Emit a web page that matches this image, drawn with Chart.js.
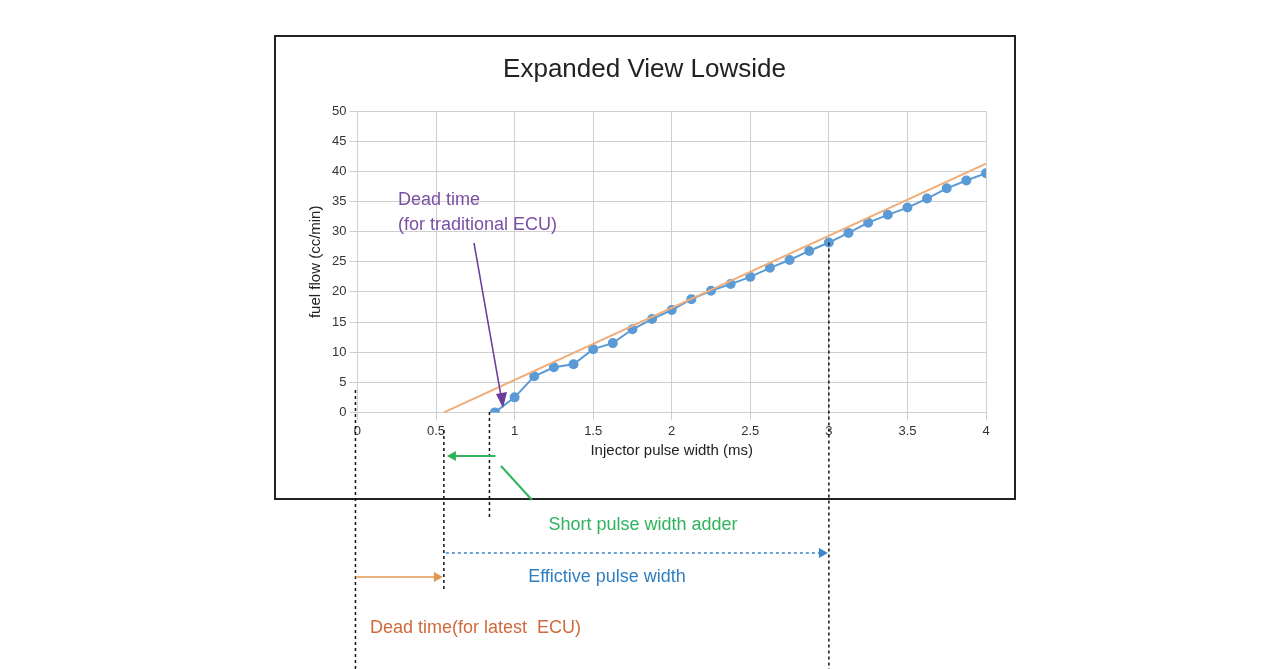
<!DOCTYPE html>
<html>
<head>
<meta charset="utf-8">
<script src="https://cdn.jsdelivr.net/npm/chart.js@4"></script>
<style>
  html, body { margin: 0; padding: 0; background: #fff; }
  #wrap { width: 1280px; height: 669px; }
</style>
</head>
<body>
<div id="wrap"><canvas id="chart"></canvas></div>
<script>
// measured flow vs pulse width
const pulseWidth = [0.875, 1.0, 1.125, 1.25, 1.375, 1.5, 1.625, 1.75, 1.875, 2.0, 2.125, 2.25, 2.375,
  2.5, 2.625, 2.75, 2.875, 3.0, 3.125, 3.25, 3.375, 3.5, 3.625, 3.75, 3.875, 4.0];
const fuelFlow = [0, 2.5, 6, 7.5, 8, 10.5, 11.5, 13.8, 15.5, 17, 18.8, 20.2, 21.3,
  22.5, 24, 25.3, 26.8, 28.2, 29.8, 31.5, 32.8, 34, 35.5, 37.2, 38.5, 39.7];
// linear fit line
const fitX = [0.55, 4.0];
const fitY = [0, 41.3];
// annotation positions (in ms)
const deadLatest = 0.55;
const deadTraditional = 0.84;
const effectiveEnd = 3.0;

const annotations = {
  id: 'annotations',
  afterDraw(chart) {
    const ctx = chart.ctx;
    const xs = chart.scales.x, ys = chart.scales.y;
    const px = v => xs.getPixelForValue(v);
    ctx.save();
    // outer box
    ctx.strokeStyle = '#222';
    ctx.lineWidth = 2;
    ctx.strokeRect(275, 36, 740, 463);

    // dotted verticals
    ctx.strokeStyle = '#111';
    ctx.lineWidth = 1.5;
    ctx.setLineDash([3, 3]);
    const vline = (x, y1, y2) => { ctx.beginPath(); ctx.moveTo(x, y1); ctx.lineTo(x, y2); ctx.stroke(); };
    vline(px(0) - 2, 390, 669);
    vline(px(deadLatest), 430, 590);
    vline(px(deadTraditional), 412, 520);
    vline(px(effectiveEnd), ys.getPixelForValue(28.2), 669);

    const arrowHead = (x, y, dir, color) => {
      ctx.setLineDash([]);
      ctx.fillStyle = color;
      ctx.beginPath();
      ctx.moveTo(x, y);
      ctx.lineTo(x - dir * 9, y - 5);
      ctx.lineTo(x - dir * 9, y + 5);
      ctx.closePath();
      ctx.fill();
    };

    // blue dotted arrow
    ctx.strokeStyle = '#3a86c8';
    ctx.setLineDash([3, 3]);
    ctx.beginPath(); ctx.moveTo(px(deadLatest) + 2, 553); ctx.lineTo(px(effectiveEnd) - 6, 553); ctx.stroke();
    arrowHead(px(effectiveEnd) - 1, 553, 1, '#3a86c8');

    // orange arrow (dead time latest)
    ctx.setLineDash([]);
    ctx.strokeStyle = '#e0964f';
    ctx.beginPath(); ctx.moveTo(px(0) - 2, 577); ctx.lineTo(px(deadLatest) - 6, 577); ctx.stroke();
    arrowHead(px(deadLatest) - 1, 577, 1, '#e0964f');

    // green short pulse adder arrow
    ctx.strokeStyle = '#2fb35d';
    ctx.lineWidth = 2;
    ctx.beginPath(); ctx.moveTo(px(deadTraditional), 456); ctx.lineTo(px(deadLatest) + 10, 456); ctx.stroke();
    arrowHead(px(deadLatest) + 3, 456, -1, '#2fb35d');
    ctx.beginPath(); ctx.moveTo(px(deadTraditional) + 6, 456); ctx.lineTo(px(deadTraditional) - 6, 456); ctx.stroke();
    ctx.beginPath(); ctx.moveTo(532, 500); ctx.lineTo(501, 466); ctx.stroke();

    // purple arrow
    ctx.strokeStyle = '#6a3d9a';
    ctx.lineWidth = 1.5;
    ctx.beginPath(); ctx.moveTo(474, 243); ctx.lineTo(501, 396); ctx.stroke();
    ctx.fillStyle = '#6a3d9a';
    ctx.beginPath(); ctx.moveTo(503, 408); ctx.lineTo(496, 394); ctx.lineTo(507, 392); ctx.closePath(); ctx.fill();

    // texts
    ctx.font = '18px "Liberation Sans", Arial, sans-serif';
    ctx.textBaseline = 'middle';
    ctx.fillStyle = '#7b4ea3';
    ctx.textAlign = 'left';
    ctx.fillText('Dead time', 398, 200);
    ctx.fillText('(for traditional ECU)', 398, 225);
    ctx.textAlign = 'center';
    ctx.fillStyle = '#2fb35d';
    ctx.fillText('Short pulse width adder', 643, 525);
    ctx.fillStyle = '#2f7fc1';
    ctx.fillText('Effictive pulse width', 607, 577);
    ctx.textAlign = 'left';
    ctx.fillStyle = '#cf6a3a';
    ctx.fillText('Dead time(for latest  ECU)', 370, 628);
    ctx.restore();
  }
};

new Chart(document.getElementById('chart'), {
  type: 'scatter',
  data: {
    datasets: [
      {
        label: 'fit',
        data: fitX.map((x, i) => ({ x, y: fitY[i] })),
        showLine: true,
        borderColor: '#f0ad7a',
        borderWidth: 2,
        pointRadius: 0
      },
      {
        label: 'measured',
        data: pulseWidth.map((x, i) => ({ x, y: fuelFlow[i] })),
        showLine: true,
        borderColor: '#5b9bd5',
        backgroundColor: '#5b9bd5',
        borderWidth: 2,
        pointRadius: 4
      }
    ]
  },
  options: {
    responsive: true,
    maintainAspectRatio: false,
    animation: false,
    layout: { padding: { left: 303, right: 294, top: 54, bottom: 205 } },
    plugins: {
      legend: { display: false },
      tooltip: { enabled: false },
      title: {
        display: true,
        text: 'Expanded View Lowside',
        color: '#222',
        font: { size: 26, family: '"Liberation Sans", Arial, sans-serif', weight: 'normal' },
        padding: { top: 0, bottom: 26 }
      }
    },
    scales: {
      x: {
        type: 'linear', min: 0, max: 4,
        ticks: { stepSize: 0.5, color: '#333', font: { size: 13 }, callback: v => String(v) },
        grid: { color: '#cfcfcf' },
        border: { color: '#cfcfcf' },
        title: { display: true, text: 'Injector pulse width (ms)', color: '#222', font: { size: 15 }, padding: { top: 0 } }
      },
      y: {
        min: 0, max: 50,
        ticks: { stepSize: 5, color: '#333', font: { size: 13 } },
        grid: { color: '#cfcfcf' },
        border: { color: '#cfcfcf' },
        title: { display: true, text: 'fuel flow (cc/min)', color: '#222', font: { size: 15 } }
      }
    }
  },
  plugins: [annotations]
});
</script>
</body>
</html>
